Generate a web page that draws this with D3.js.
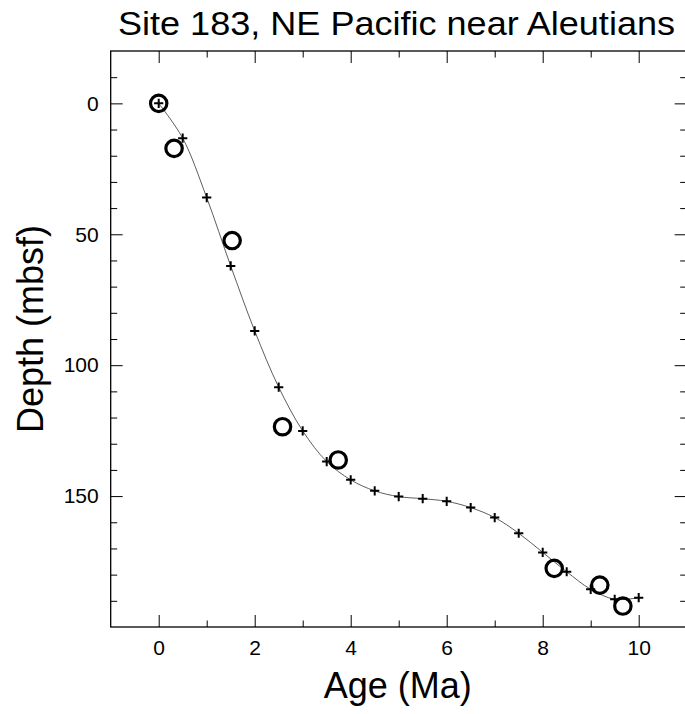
<!DOCTYPE html>
<html>
<head>
<meta charset="utf-8">
<script src="https://cdn.jsdelivr.net/npm/d3@7"></script>
<style>
  html, body { margin: 0; padding: 0; background: #fff; }
  svg { display: block; }
  text { font-family: "Liberation Sans", Arial, Helvetica, sans-serif; fill: #000; }
</style>
</head>
<body>
<div id="chart"></div>
<script>
// ---- data ----
const modelAges   = [0, 0.5, 1, 1.5, 2, 2.5, 3, 3.5, 4, 4.5, 5, 5.5, 6, 6.5, 7, 7.5, 8, 8.5, 9, 9.5, 10];
const modelDepths = [0, 13.3, 36.0, 62.1, 86.9, 108.4, 125.1, 136.8, 143.8, 148.0, 150.2, 151.0, 152.0, 154.4, 158.2, 164.2, 171.5, 178.9, 185.6, 189.4, 188.8];
const datumAges   = [0, 0.32, 1.53, 2.58, 3.74, 8.24, 9.19, 9.67];
const datumDepths = [0, 17.2, 52.4, 123.5, 136.2, 177.6, 184.0, 192.0];
const xTickLabels = [0, 2, 4, 6, 8, 10];
const yTickLabels = [0, 50, 100, 150];
const titleText = "Site 183, NE Pacific near Aleutians";
const xLabel = "Age (Ma)";
const yLabel = "Depth (mbsf)";

// ---- layout ----
const W = 685, H = 714;
const L = 110.7, R = 686.7, T = 51, B = 627;

const svg = d3.select("#chart").append("svg").attr("width", W).attr("height", H);

const x = d3.scaleLinear().domain([-1, 11]).range([L, R]);
const y = d3.scaleLinear().domain([-20, 200]).range([T, B]);

const majorLen = 12, minorLen = 6.5;
const xMinor = d3.range(0, 11, 1).filter(v => !xTickLabels.includes(v));
const yMinor = d3.range(-10, 200, 10).filter(v => !yTickLabels.includes(v));

// bottom axis
const gB = svg.append("g").attr("transform", `translate(0,${B})`)
  .call(d3.axisBottom(x).tickValues(xTickLabels).tickSizeInner(-majorLen).tickSizeOuter(0).tickPadding(13).tickFormat(d3.format("d")));
gB.append("g").call(d3.axisBottom(x).tickValues(xMinor).tickSizeInner(-minorLen).tickSizeOuter(0).tickFormat(""));
// top axis
const gT = svg.append("g").attr("transform", `translate(0,${T})`);
gT.call(d3.axisTop(x).tickValues(xTickLabels).tickSizeInner(-majorLen).tickSizeOuter(0).tickFormat(""));
gT.append("g").call(d3.axisTop(x).tickValues(xMinor).tickSizeInner(-minorLen).tickSizeOuter(0).tickFormat(""));
// left axis
const gL = svg.append("g").attr("transform", `translate(${L},0)`)
  .call(d3.axisLeft(y).tickValues(yTickLabels).tickSizeInner(-majorLen).tickSizeOuter(0).tickPadding(12).tickFormat(d3.format("d")));
gL.append("g").call(d3.axisLeft(y).tickValues(yMinor).tickSizeInner(-minorLen).tickSizeOuter(0).tickFormat(""));
// right axis
const gR = svg.append("g").attr("transform", `translate(${R},0)`);
gR.call(d3.axisRight(y).tickValues(yTickLabels).tickSizeInner(-majorLen).tickSizeOuter(0).tickFormat(""));
gR.append("g").call(d3.axisRight(y).tickValues(yMinor).tickSizeInner(-minorLen).tickSizeOuter(0).tickFormat(""));

svg.selectAll(".domain").remove();
svg.selectAll(".tick line").attr("stroke", "#000").attr("stroke-width", 1);
svg.selectAll(".tick text").attr("font-size", 21).attr("font-family", "Liberation Sans, Arial, sans-serif").attr("fill", "#000");

// frame
svg.append("rect").attr("x", L).attr("y", T).attr("width", R - L).attr("height", B - T)
  .attr("fill", "none").attr("stroke", "#000").attr("stroke-width", 1.3);

// model curve
const pts = modelAges.map((a, i) => [a, modelDepths[i]]);
const line = d3.line().x(d => x(d[0])).y(d => y(d[1])).curve(d3.curveCatmullRom.alpha(0.5));
svg.append("path").datum(pts).attr("d", line)
  .attr("fill", "none").attr("stroke", "#333").attr("stroke-width", 0.8);

// plus markers
const ph = 4.6;
svg.append("g").selectAll("path").data(pts).join("path")
  .attr("d", d => `M${x(d[0]) - ph},${y(d[1])}H${x(d[0]) + ph}M${x(d[0])},${y(d[1]) - ph}V${y(d[1]) + ph}`)
  .attr("stroke", "#000").attr("stroke-width", 2).attr("fill", "none");

// datum circles
const dpts = datumAges.map((a, i) => [a, datumDepths[i]]);
svg.append("g").selectAll("circle").data(dpts).join("circle")
  .attr("cx", d => x(d[0])).attr("cy", d => y(d[1])).attr("r", 8.2)
  .attr("fill", "none").attr("stroke", "#000").attr("stroke-width", 3.2);

// title
svg.append("text").attr("x", 396.5).attr("y", 34.5).attr("text-anchor", "middle")
  .attr("font-size", 34).attr("textLength", 557).attr("lengthAdjust", "spacingAndGlyphs").text(titleText);
// x label
svg.append("text").attr("x", (L + R) / 2 - 1).attr("y", 698).attr("text-anchor", "middle")
  .attr("font-size", 36).text(xLabel);
// y label
svg.append("text").attr("transform", `translate(43,329) rotate(-90)`).attr("text-anchor", "middle")
  .attr("font-size", 36).text(yLabel);
</script>
</body>
</html>
